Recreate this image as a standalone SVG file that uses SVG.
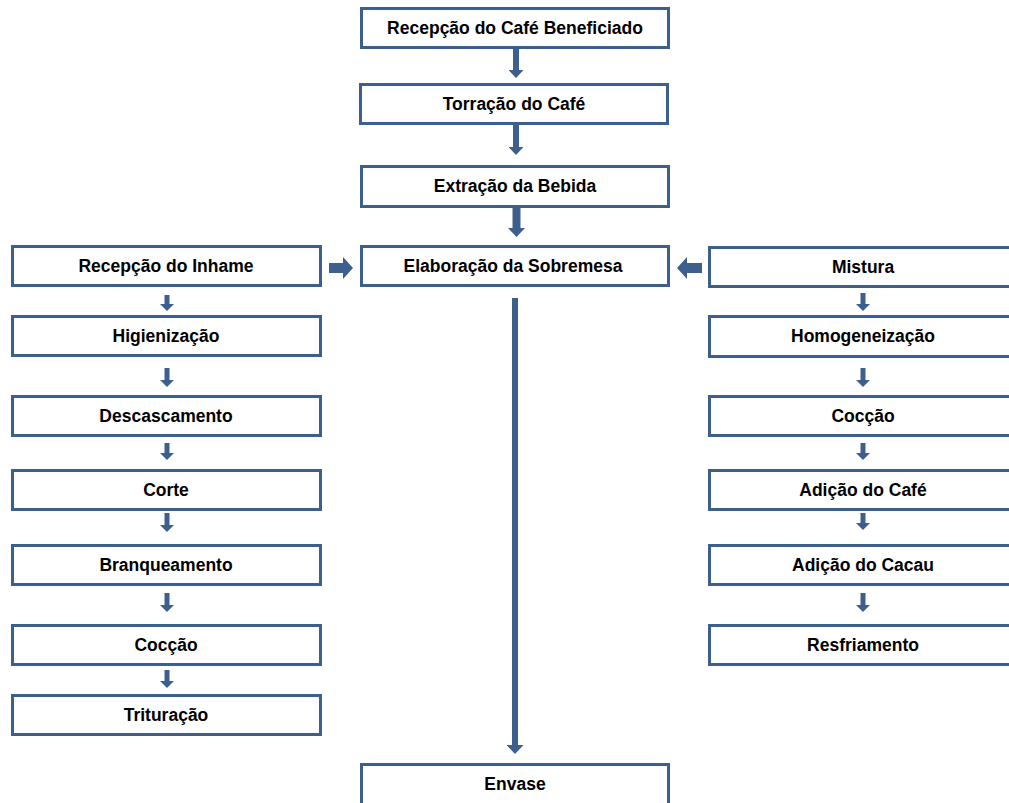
<svg xmlns="http://www.w3.org/2000/svg" width="1009" height="803" viewBox="0 0 1009 803">
<style>
.box rect{fill:#fff;stroke:#3D5F8D;stroke-width:3}
.box text{font-family:"Liberation Sans",Arial,sans-serif;font-weight:bold;font-size:17.5px;fill:#000;text-anchor:middle}
.c line{stroke:#3D5F8D;fill:none}
</style>
<defs>
<marker id="ahS" viewBox="0 0 7 14" markerWidth="7" markerHeight="14" refX="0" refY="7" orient="auto" markerUnits="userSpaceOnUse"><path d="M0,0 L7,7 L0,14 z" fill="#3D5F8D"/></marker>
<marker id="ahM" viewBox="0 0 8 15" markerWidth="8" markerHeight="15" refX="0" refY="7.5" orient="auto" markerUnits="userSpaceOnUse"><path d="M0,0 L8,7.5 L0,15 z" fill="#3D5F8D"/></marker>
<marker id="ahL" viewBox="0 0 9 17" markerWidth="9" markerHeight="17" refX="0" refY="8.5" orient="auto" markerUnits="userSpaceOnUse"><path d="M0,0 L9,8.5 L0,17 z" fill="#3D5F8D"/></marker>
<marker id="ahH" viewBox="0 0 10 22" markerWidth="10" markerHeight="22" refX="0" refY="11" orient="auto" markerUnits="userSpaceOnUse"><path d="M0,0 L10,11 L0,22 z" fill="#3D5F8D"/></marker>
</defs>

<g id="connectors" class="c">
<line x1="516" y1="49" x2="516" y2="70" stroke-width="6" marker-end="url(#ahM)"/>
<line x1="516" y1="125" x2="516" y2="147" stroke-width="6" marker-end="url(#ahM)"/>
<line x1="516.5" y1="208" x2="516.5" y2="228" stroke-width="8" marker-end="url(#ahL)"/>
<line x1="515" y1="298" x2="515" y2="745" stroke-width="6" marker-end="url(#ahL)"/>
<line x1="329" y1="268" x2="343" y2="268" stroke-width="10" marker-end="url(#ahH)"/>
<line x1="702" y1="268" x2="687" y2="268" stroke-width="10" marker-end="url(#ahH)"/>
<line x1="167" y1="295" x2="167" y2="304" stroke-width="5" marker-end="url(#ahS)"/>
<line x1="167" y1="368" x2="167" y2="380" stroke-width="5" marker-end="url(#ahS)"/>
<line x1="167" y1="443" x2="167" y2="453" stroke-width="5" marker-end="url(#ahS)"/>
<line x1="167" y1="513" x2="167" y2="525" stroke-width="5" marker-end="url(#ahS)"/>
<line x1="167" y1="593" x2="167" y2="605" stroke-width="5" marker-end="url(#ahS)"/>
<line x1="167" y1="670" x2="167" y2="681" stroke-width="5" marker-end="url(#ahS)"/>
<line x1="863" y1="293" x2="863" y2="304" stroke-width="5" marker-end="url(#ahS)"/>
<line x1="863" y1="368" x2="863" y2="380" stroke-width="5" marker-end="url(#ahS)"/>
<line x1="863" y1="443" x2="863" y2="453" stroke-width="5" marker-end="url(#ahS)"/>
<line x1="863" y1="513" x2="863" y2="523" stroke-width="5" marker-end="url(#ahS)"/>
<line x1="863" y1="593" x2="863" y2="605" stroke-width="5" marker-end="url(#ahS)"/>
</g>

<g id="n-recepcao-cafe" class="box"><rect x="361.5" y="8.5" width="307" height="39"/><text x="515" y="34">Recepção do Café Beneficiado</text></g>
<g id="n-torracao" class="box"><rect x="360.5" y="84.5" width="307" height="39"/><text x="514" y="110">Torração do Café</text></g>
<g id="n-extracao" class="box"><rect x="361.5" y="166.5" width="307" height="40"/><text x="515" y="192">Extração da Bebida</text></g>
<g id="n-elaboracao" class="box"><rect x="361.5" y="246.5" width="307" height="39"/><text x="513" y="272">Elaboração da Sobremesa</text></g>
<g id="n-envase" class="box"><rect x="361.5" y="764.5" width="307" height="50"/><text x="515" y="790">Envase</text></g>

<g id="n-recepcao-inhame" class="box"><rect x="12.5" y="246.5" width="308" height="39"/><text x="166" y="272">Recepção do Inhame</text></g>
<g id="n-higienizacao" class="box"><rect x="12.5" y="316.5" width="308" height="39"/><text x="166" y="342">Higienização</text></g>
<g id="n-descascamento" class="box"><rect x="12.5" y="396.5" width="308" height="39"/><text x="166" y="422">Descascamento</text></g>
<g id="n-corte" class="box"><rect x="12.5" y="470.5" width="308" height="39"/><text x="166" y="496">Corte</text></g>
<g id="n-branqueamento" class="box"><rect x="12.5" y="545.5" width="308" height="39"/><text x="166" y="571">Branqueamento</text></g>
<g id="n-coccao-l" class="box"><rect x="12.5" y="625.5" width="308" height="39"/><text x="166" y="651">Cocção</text></g>
<g id="n-trituracao" class="box"><rect x="12.5" y="695.5" width="308" height="39"/><text x="166" y="721">Trituração</text></g>

<g id="n-mistura" class="box"><rect x="709.5" y="247.5" width="310" height="39"/><text x="863" y="273">Mistura</text></g>
<g id="n-homogeneizacao" class="box"><rect x="709.5" y="316.5" width="310" height="40"/><text x="863" y="342">Homogeneização</text></g>
<g id="n-coccao-r" class="box"><rect x="709.5" y="396.5" width="310" height="39"/><text x="863" y="422">Cocção</text></g>
<g id="n-adicao-cafe" class="box"><rect x="709.5" y="470.5" width="310" height="39"/><text x="863" y="496">Adição do Café</text></g>
<g id="n-adicao-cacau" class="box"><rect x="709.5" y="545.5" width="310" height="39"/><text x="863" y="571">Adição do Cacau</text></g>
<g id="n-resfriamento" class="box"><rect x="709.5" y="625.5" width="310" height="39"/><text x="863" y="651">Resfriamento</text></g>
</svg>
